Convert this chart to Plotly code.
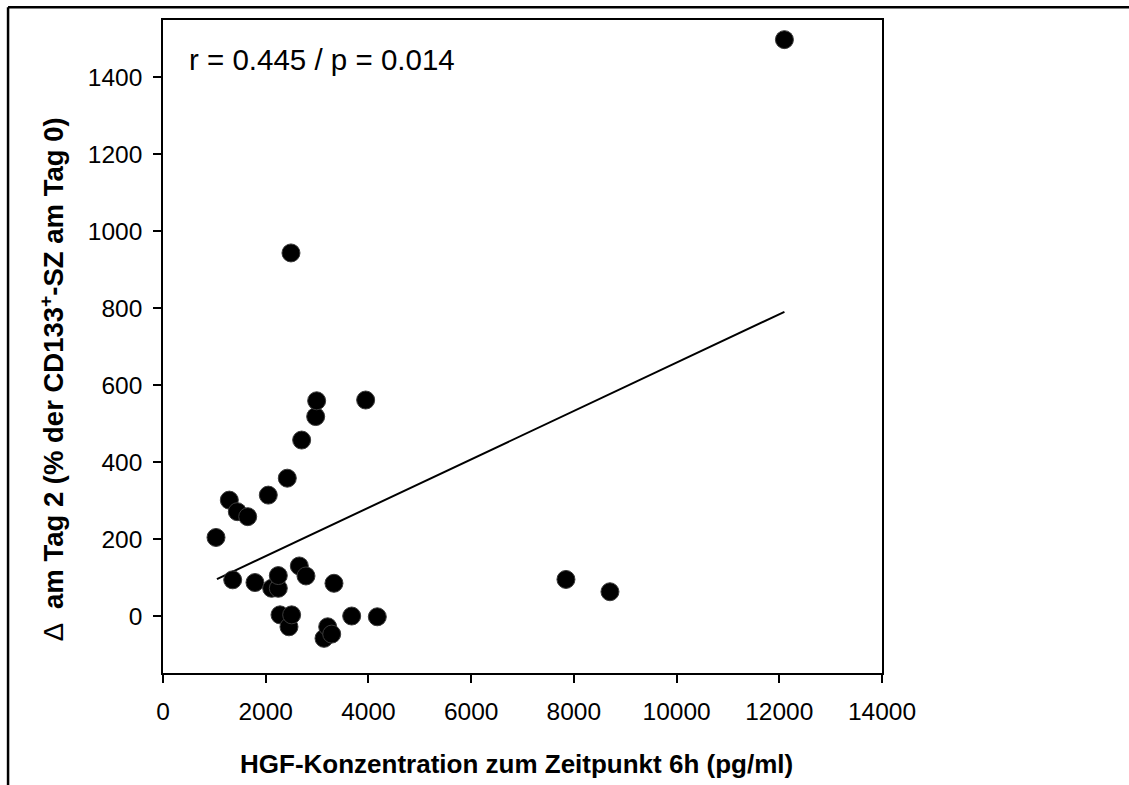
import plotly.graph_objects as go

# HGF concentration at 6 h (pg/ml) and change in CD133+ cells on day 2 (% of day 0)
hgf_6h = [1032, 1291, 1357, 1447, 1649, 1791, 2050, 2116, 2245, 2245,
          2278, 2420, 2453, 2492, 2505, 2654, 2700, 2784, 2973, 2992,
          3135, 3207, 3285, 3329, 3674, 3946, 4173, 7846, 8703, 12100]
delta_day2 = [204, 301, 94, 271, 258, 87, 314, 72, 72, 105,
              3, 358, -28, 943, 3, 130, 457, 104, 518, 559,
              -58, -28, -47, 85, 0, 561, -2, 95, 63, 1497]

# Regression line end points
fit_x = [1050, 12100]
fit_y = [96, 790]

x_ticks = [0, 2000, 4000, 6000, 8000, 10000, 12000, 14000]
y_ticks = [0, 200, 400, 600, 800, 1000, 1200, 1400]

font = "Liberation Sans, Arial, sans-serif"

fig = go.Figure()
fig.add_trace(go.Scatter(
    x=fit_x, y=fit_y, mode="lines",
    line=dict(color="black", width=2), showlegend=False, hoverinfo="skip"))
fig.add_trace(go.Scatter(
    x=hgf_6h, y=delta_day2, mode="markers",
    marker=dict(color="black", size=18, line=dict(color="#3a3a3a", width=1)),
    showlegend=False))

axis_common = dict(
    showgrid=False, zeroline=False, showline=True, linecolor="black",
    linewidth=1.5, mirror=True, ticks="outside", ticklen=8, tickwidth=1.5,
    tickcolor="black", tickfont=dict(family=font, size=24.5, color="black"),
)

fig.update_xaxes(
    range=[0, 14000], tickvals=x_ticks, ticktext=[str(v) for v in x_ticks],
    ticklabelstandoff=8, **axis_common)
fig.update_yaxes(
    range=[-148, 1548], tickvals=y_ticks, ticktext=[str(v) for v in y_ticks],
    ticklabelstandoff=6, **axis_common)

# Axis titles
fig.add_annotation(
    text="<b>HGF-Konzentration zum Zeitpunkt 6h (pg/ml)</b>",
    xref="paper", yref="paper", x=0.491, y=-0.1394,
    xanchor="center", yanchor="middle", showarrow=False,
    font=dict(family=font, size=26, color="black"))
fig.add_annotation(
    text="Δ  <b>am Tag 2 (% der CD133<sup>+</sup>-SZ am Tag 0)</b>",
    xref="paper", yref="paper", x=-0.1544, y=0.45, textangle=-90,
    xanchor="center", yanchor="middle", showarrow=False,
    font=dict(family=font, size=27.5, color="black"))

fig.add_annotation(
    text="r = 0.445 / p = 0.014", xref="paper", yref="paper",
    x=0.033, y=0.94, xanchor="left", yanchor="middle", showarrow=False,
    font=dict(family=font, size=29.5, color="black"))

# Outer frame (top and left edges)
fig.add_shape(type="line", xref="paper", yref="paper",
              x0=-0.2155, x1=1.4, y0=1.0195, y1=1.0195,
              line=dict(color="black", width=2.5))
fig.add_shape(type="line", xref="paper", yref="paper",
              x0=-0.2155, x1=-0.2155, y0=1.0195, y1=-0.2,
              line=dict(color="black", width=2.5))

fig.update_layout(
    width=1129, height=785,
    margin=dict(l=163, r=247, t=20, b=112),
    plot_bgcolor="white", paper_bgcolor="white",
    font=dict(family=font, color="black"),
)

fig.write_html("out.html")
